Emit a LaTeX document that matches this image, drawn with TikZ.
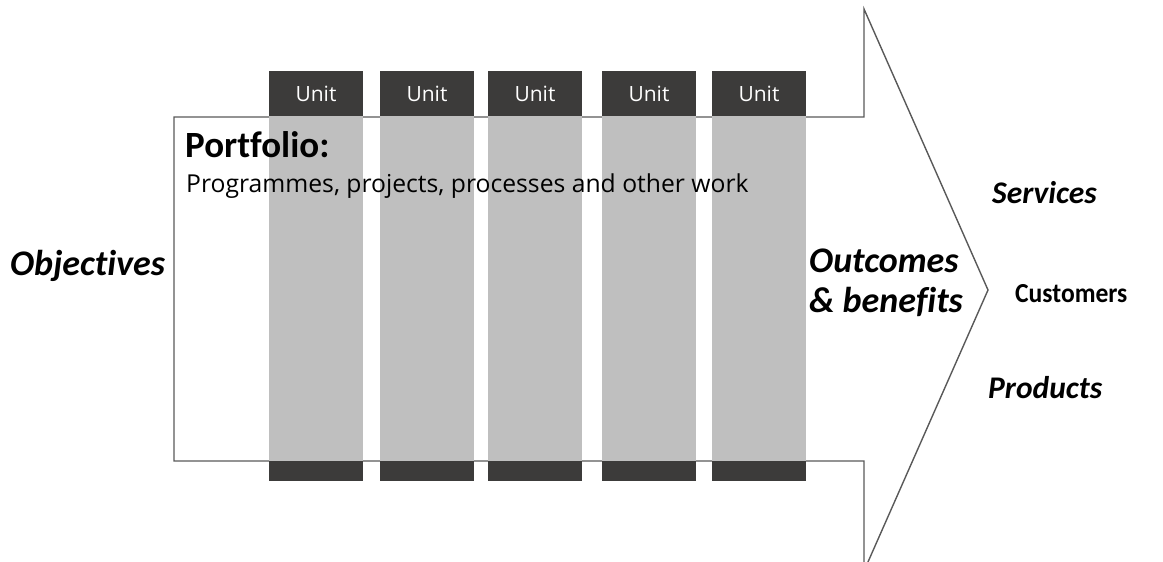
\documentclass[tikz,border=0pt]{standalone}
\usepackage{fontspec}
\setmainfont{Carlito}[Ligatures=NoCommon]
\newfontfamily\uifont{Open Sans}
\definecolor{outlinegray}{HTML}{595959}
\definecolor{colgray}{HTML}{BFBFBF}
\definecolor{capdark}{HTML}{3C3B3A}
\begin{document}
\begin{tikzpicture}[x=1pt,y=-1pt,
  outline/.style={draw=outlinegray, line width=1.4pt, line join=miter},
  capbox/.style={fill=capdark, draw=none, minimum width=94pt, inner sep=0pt},
  unitlabel/.style={capbox, minimum height=45pt, text=white, font=\uifont\fontsize{21}{24}\selectfont},
  lefttext/.style={anchor=base west, inner sep=0pt, text=black},
  bigital/.style={lefttext, font=\fontsize{36}{40}\selectfont\bfseries\itshape},
  sideital/.style={lefttext, font=\fontsize{31.5}{36}\selectfont\bfseries\itshape},
]
\useasboundingbox (0,0) rectangle (1163,562);
\begin{scope}
\clip (0,0) rectangle (1163,562);
\draw[outline] (174,117) -- (864,117) -- (864,9) -- (988,290) -- (864,571) -- (864,461) -- (174,461) -- cycle;
\end{scope}
\foreach \i/\l/\r in {1/269/363, 2/380/474, 3/488/582, 4/602/696, 5/712/806} {
  \fill[colgray] (\l,116) rectangle (\r,461);
  \node[unitlabel] (u\i) at ({(\l+\r)/2},93.5) {Unit};
  \node[capbox, minimum height=20pt] (b\i) at ({(\l+\r)/2},471) {};
}
\node[lefttext, font=\fontsize{37}{40}\selectfont\bfseries] (portfolio) at (185,157) {Portfolio:};
\node[lefttext, font=\uifont\fontsize{24.7}{28}\selectfont] (work) at (186,192) {Programmes, projects, processes and other work};
\node[bigital] (objectives) at (10,275) {Objectives};
\node[bigital] (outcomes) at (809,272) {Outcomes};
\node[bigital] (benefits) at (809,312) {\&\ benefits};
\node[sideital] (services) at (992,203) {Services};
\node[lefttext, font=\fontsize{27.5}{32}\selectfont\bfseries, xscale=0.93, transform shape] (customers) at (1015,302) {Customers};
\node[sideital] (products) at (988,398) {Products};
\end{tikzpicture}
\end{document}
